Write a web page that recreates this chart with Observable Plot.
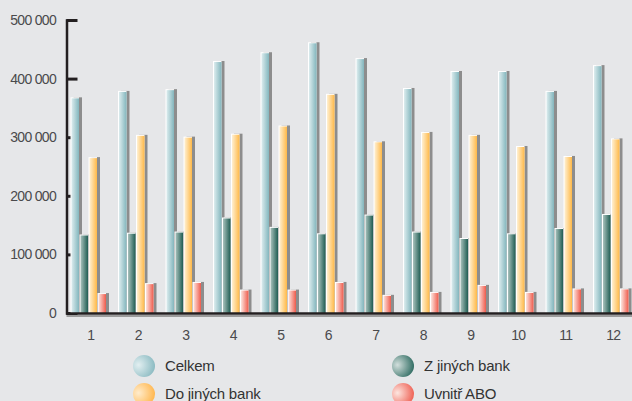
<!DOCTYPE html>
<html>
<head>
<meta charset="utf-8">
<script src="https://cdn.jsdelivr.net/npm/d3@7"></script>
<script src="https://cdn.jsdelivr.net/npm/@observablehq/plot@0.6"></script>
<style>
  html, body { margin: 0; padding: 0; background: #e6e7e9; }
  #wrap { width: 632px; height: 401px; overflow: hidden; position: relative; background: #e6e7e9; }
  #legend { position: relative; width: 632px; height: 56px; font-family: "Liberation Sans", Arial, sans-serif; font-size: 15px; letter-spacing: -0.2px; color: #333; }
  .sw { width: 22px; height: 22px; border-radius: 50%; }
  .lab { position: absolute; white-space: nowrap; }
  svg text { letter-spacing: -0.7px; }
</style>
</head>
<body>
<div id="wrap"><div id="chart"></div><div id="legend"></div></div>
<script>
const months = ["1","2","3","4","5","6","7","8","9","10","11","12"];
const seriesNames = ["Celkem", "Z jiných bank", "Do jiných bank", "Uvnitř ABO"];
const celkem   = [368000, 379000, 382000, 430000, 445000, 462000, 435000, 384000, 413000, 413000, 379000, 423000];
const zJinych  = [134000, 137000, 139000, 163000, 147000, 136000, 168000, 139000, 128000, 136000, 145000, 169000];
const doJinych = [266000, 304000, 301000, 306000, 320000, 374000, 293000, 309000, 304000, 285000, 268000, 298000];
const uvnitr   = [34000, 51000, 53000, 40000, 40000, 53000, 31000, 36000, 48000, 36000, 42000, 42000];
const yTicks = [0, 100000, 200000, 300000, 400000, 500000];
const yTickLabels = ["0", "100 000", "200 000", "300 000", "400 000", "500 000"];

const seriesValues = [celkem, zJinych, doJinych, uvnitr];
const gradIds = ["gCel", "gZ", "gDo", "gU"];
const gradStops = [
  ["#dcecee", "#83b6bd"],
  ["#a9c2bd", "#1f5d53"],
  ["#fff0d2", "#ffb948"],
  ["#fde4de", "#ef5b4c"]
];
const legendGrad = [
  ["#e2eff1", "#7db2ba"],
  ["#d2dfdc", "#165a4f"],
  ["#ffeccc", "#ffae3a"],
  ["#fde6e0", "#ec4c3e"]
];

const table = [];
seriesNames.forEach((s, k) => months.forEach((m, i) => table.push({month: m, series: s, k, value: seriesValues[k][i]})));

const FONT = "Liberation Sans, Arial, sans-serif";
const step = 47.5;
const barW = 8.5;
const marks = [
  Plot.axisY({ticks: yTicks, tickSize: -11, strokeWidth: 3, stroke: "#231f20", tickFormat: () => "", label: null}),
  Plot.axisY({ticks: yTicks, tickSize: 0, tickPadding: 11, tickFormat: (d) => yTickLabels[yTicks.indexOf(d)],
    fontSize: 14, fill: "#4a4a4c", fontFamily: FONT, label: null}),
  Plot.axisX({tickSize: 0, tickPadding: 17, fontSize: 14, fill: "#4a4a4c", fontFamily: FONT, label: null})
];
seriesNames.forEach((s, k) => {
  const data = table.filter(d => d.k === k);
  const left = 4 + 9 * k;
  const right = step - left - barW;
  marks.push(Plot.barY(data, {x: "month", y: "value", insetLeft: left, insetRight: right, dx: 3, fill: "#8d8d8d"}));
  marks.push(Plot.barY(data, {x: "month", y: "value", insetLeft: left, insetRight: right, fill: "#ffffff"}));
  marks.push(Plot.barY(data, {x: "month", y: "value", insetLeft: left + 1, insetRight: right, insetTop: 1, fill: `url(#${gradIds[k]})`}));
});
marks.push(Plot.ruleY([0], {stroke: "#9b9b9b", strokeWidth: 2, dy: 2.5}));
marks.push(Plot.ruleY([0], {stroke: "#231f20", strokeWidth: 2.5}));
marks.push(Plot.frame({anchor: "left", stroke: "#231f20", strokeWidth: 2.5}));

const chart = Plot.plot({
  width: 632,
  height: 345,
  marginLeft: 66.5,
  marginRight: -4.5,
  marginTop: 20,
  marginBottom: 32,
  style: {background: "#e6e7e9", overflow: "hidden"},
  x: {type: "band", domain: months, padding: 0, round: false, axis: null},
  y: {domain: [0, 500000], axis: null},
  marks
});

const defs = d3.select(chart).insert("defs", ":first-child");
gradIds.forEach((id, k) => {
  const g = defs.append("linearGradient").attr("id", id).attr("x1", "0").attr("x2", "1").attr("y1", "0").attr("y2", "0");
  g.append("stop").attr("offset", "0").attr("stop-color", gradStops[k][0]);
  g.append("stop").attr("offset", "1").attr("stop-color", gradStops[k][1]);
});
document.getElementById("chart").appendChild(chart);

// legend
const legend = document.getElementById("legend");
const pos = [[133, 10], [392, 10], [133, 38], [392, 38]];
seriesNames.forEach((name, k) => {
  const [x, y] = pos[k];
  const sw = document.createElement("div");
  sw.className = "sw";
  sw.style.position = "absolute";
  sw.style.left = x + "px";
  sw.style.top = y + "px";
  sw.style.background = `radial-gradient(circle at 25% 45%, ${legendGrad[k][0]} 0%, ${legendGrad[k][1]} 95%)`;
  legend.appendChild(sw);
  const lab = document.createElement("div");
  lab.className = "lab";
  lab.textContent = name;
  lab.style.left = (x + 32) + "px";
  lab.style.top = (y + 2) + "px";
  legend.appendChild(lab);
});
</script>
</body>
</html>
